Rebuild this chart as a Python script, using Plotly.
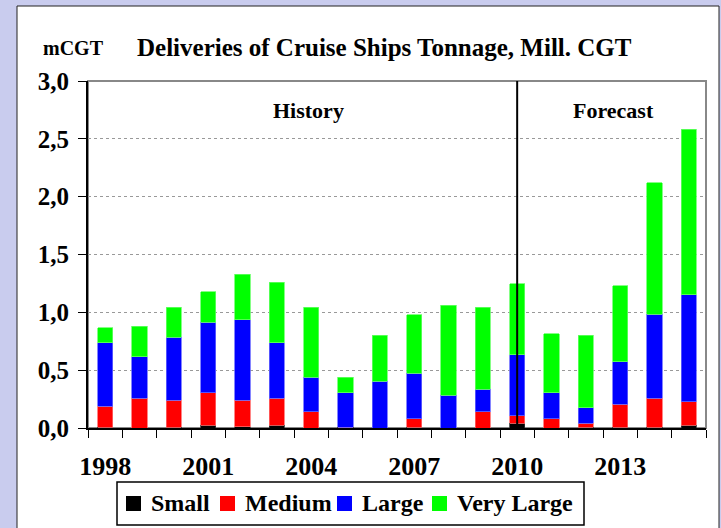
import plotly.graph_objects as go

years = list(range(1998, 2016))

small = [0.005, 0.0, 0.005, 0.025, 0.01, 0.025, 0.0, 0.005, 0.0,
         0.005, 0.0, 0.0, 0.04, 0.0, 0.005, 0.005, 0.005, 0.025]
medium = [0.185, 0.257, 0.237, 0.28, 0.232, 0.232, 0.141, 0.0, 0.0,
          0.073, 0.0, 0.141, 0.066, 0.078, 0.035, 0.202, 0.252, 0.20]
large = [0.547, 0.36, 0.542, 0.611, 0.692, 0.478, 0.297, 0.30, 0.406,
         0.395, 0.285, 0.196, 0.528, 0.227, 0.136, 0.364, 0.726, 0.925]
very_large = [0.128, 0.263, 0.262, 0.264, 0.396, 0.525, 0.605, 0.133, 0.394,
              0.507, 0.775, 0.706, 0.611, 0.51, 0.624, 0.657, 1.137, 1.432]

x_labels = [1998, 2001, 2004, 2007, 2010, 2013]
y_ticks = [0.0, 0.5, 1.0, 1.5, 2.0, 2.5, 3.0]

SERIF = "Liberation Serif"

# plot area in pixels: x 88..706, y 81..428
L, R, T, B = 88, 706, 81, 428


def px(x):
    return (x - L) / (R - L)


def py(y):
    return (B - y) / (B - T)


def label(text, x, y, size, xanchor="center"):
    fig.add_annotation(text=text, x=px(x), y=py(y), xref="paper", yref="paper",
                       xanchor=xanchor, yanchor="middle", showarrow=False,
                       font=dict(family=SERIF, size=size, weight="bold", color="black"))


fig = go.Figure()
series = [("Small", small, "#000000", "#333333"),
          ("Medium", medium, "#ff0000", "#ff6666"),
          ("Large", large, "#0000ff", "#6666ff"),
          ("Very Large", very_large, "#00ff00", "#66ff66")]
for name, vals, col, edge in series:
    fig.add_trace(go.Bar(x=years, y=vals, name=name,
                         marker=dict(color=col, line=dict(color=edge, width=0.8))))

# white panel behind the chart
fig.add_shape(type="rect", xref="paper", yref="paper",
              x0=px(17), x1=px(719), y0=py(560), y1=py(6),
              fillcolor="white", line=dict(color="#222", width=1), layer="below")
# gray plot border (top / right)
fig.add_shape(type="rect", xref="paper", yref="paper", x0=0, x1=1, y0=0, y1=1,
              line=dict(color="#888", width=2), layer="below")
# history / forecast split
fig.add_shape(type="line", xref="x", yref="y", x0=2010, x1=2010, y0=0, y1=3,
              line=dict(color="black", width=2))

label("History", 308, 110, 22)
label("Forecast", 613, 110, 22)
label("Deliveries of Cruise Ships Tonnage, Mill. CGT", 384, 47, 25)
label("mCGT", 73, 48, 20)

# legend box drawn by hand to match the compact layout
fig.add_shape(type="rect", xref="paper", yref="paper",
              x0=px(117), x1=px(584), y0=py(525), y1=py(482),
              fillcolor="white", line=dict(color="black", width=1.5))
legend_pos = [(126, 149), (220, 243), (337, 360), (432, 455)]
for (name, _, col, _), (sx, tx) in zip(series, legend_pos):
    fig.add_shape(type="rect", xref="paper", yref="paper",
                  x0=px(sx), x1=px(sx + 15), y0=py(511), y1=py(496),
                  fillcolor=col, line=dict(width=0))
    label(name, tx, 503, 24, xanchor="left")

fig.update_layout(
    barmode="stack",
    bargap=0.56,
    width=721, height=528,
    margin=dict(l=L, r=721 - R, t=T, b=528 - B),
    paper_bgcolor="#c9ccee",
    plot_bgcolor="rgba(0,0,0,0)",
    separators=",.",
    showlegend=False,
    font=dict(family=SERIF, color="black"),
)

fig.update_xaxes(
    range=[1997.5, 2015.5], automargin=False,
    tickvals=x_labels, ticks="", ticklabelstandoff=14,
    tickfont=dict(family=SERIF, size=26, weight="bold", color="black"),
    showline=True, linecolor="black", linewidth=2,
    showgrid=False, zeroline=False,
    minor=dict(tickvals=[y - 0.5 for y in years] + [2015.5], ticks="outside",
               ticklen=8, tickcolor="black", tickwidth=1, showgrid=False),
)
fig.update_yaxes(
    range=[0, 3.0], automargin=False,
    tickvals=y_ticks, tickformat=".1f",
    ticks="outside", ticklen=8, tickcolor="black", ticklabelstandoff=4,
    tickfont=dict(family=SERIF, size=25, weight="bold", color="black"),
    showline=True, linecolor="black", linewidth=2,
    showgrid=True, gridcolor="#999", griddash="dot", gridwidth=1,
    zeroline=False,
)

# drop the page's default body margin so the figure sits at the window corner
fig.write_html("out.html", config={"displayModeBar": False},
               post_script="document.body.style.margin='0px';")
